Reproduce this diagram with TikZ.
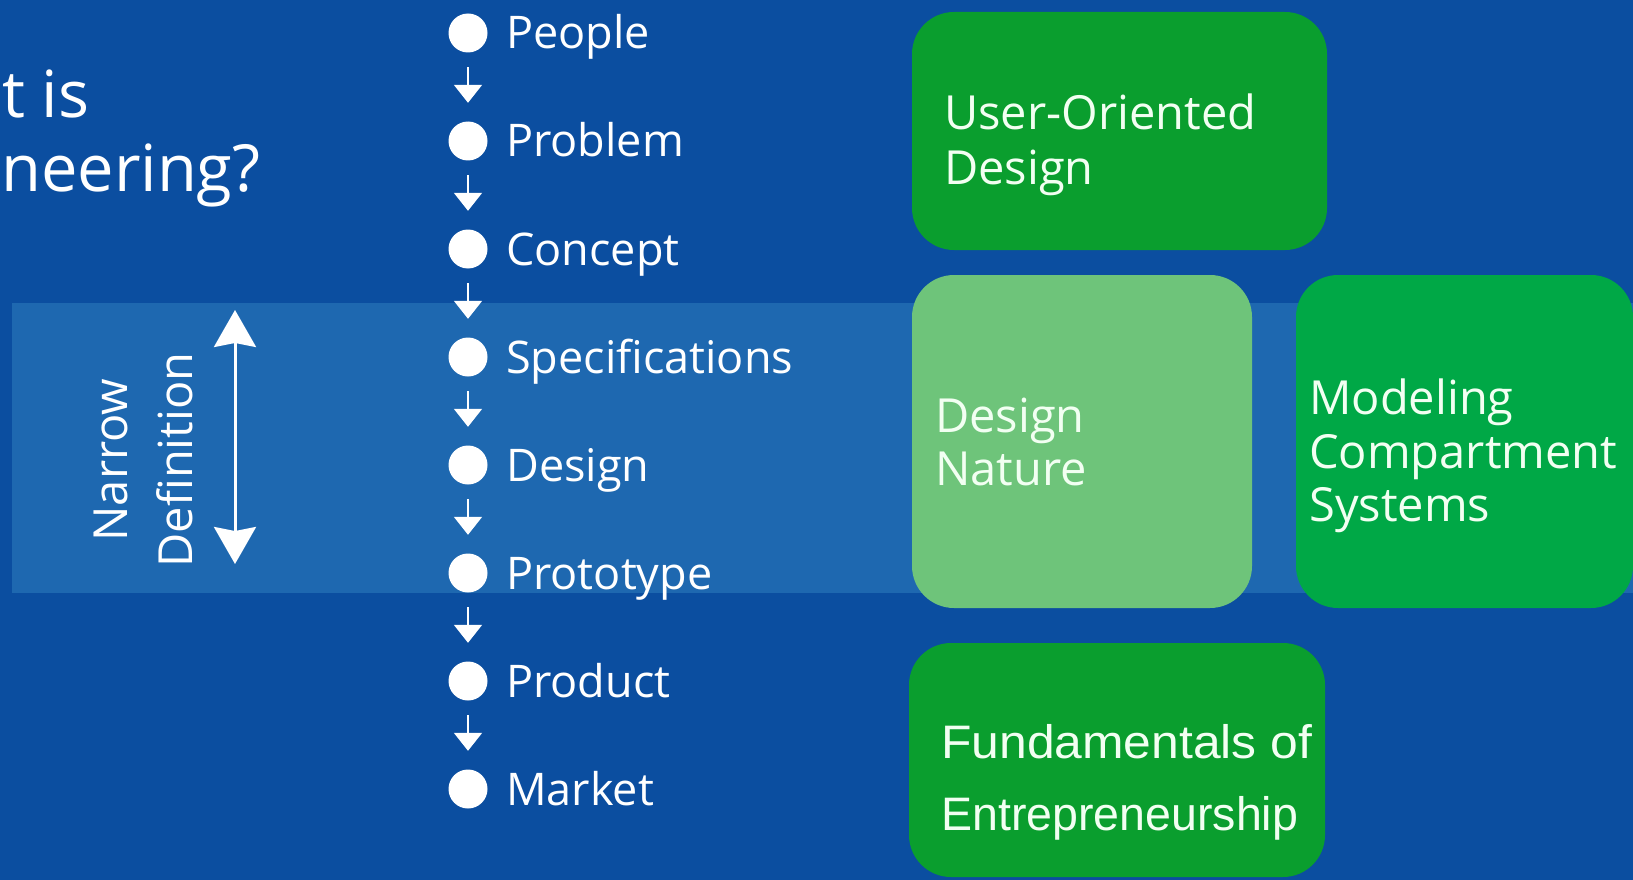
\documentclass[tikz,border=0pt]{standalone}
\usepackage{fontspec}
\setmainfont{Open Sans}
\newfontfamily\arialfont{Liberation Sans}
\usetikzlibrary{arrows.meta}
\definecolor{bgblue}{HTML}{0B4EA0}
\definecolor{bandblue}{HTML}{1E68B0}
\definecolor{greenA}{HTML}{0A9E2E}
\definecolor{greenB}{HTML}{00A846}
\definecolor{greenL}{HTML}{6EC47A}
\definecolor{boxtext}{HTML}{F2FFF2}
\begin{document}
\begin{tikzpicture}[x=1pt,y=-1pt,
  titletext/.style={inner sep=0pt,anchor=base west,text=white,font=\fontsize{65}{78}\selectfont},
  listtext/.style={inner sep=0pt,anchor=base west,text=white,font=\fontsize{45}{54}\selectfont},
  dot/.style={circle,fill=white,minimum size=39pt,inner sep=0pt},
  flowarrow/.style={draw=white,line width=2pt,-{Triangle[width=28pt,length=18pt]},shorten <=14.5pt,shorten >=18.5pt},
  spanarrow/.style={draw=white,line width=3pt,{Stealth[width=42pt,length=37pt,inset=4pt]}-{Stealth[width=42pt,length=37pt,inset=4pt]}},
  sidetext/.style={inner sep=0pt,anchor=base,rotate=90,text=white,font=\fontsize{47}{56}\selectfont},
  gbox/.style={rounded corners=42pt},
  boxtxt/.style={inner sep=0pt,anchor=base west,text=boxtext,font=\fontsize{47}{56}\selectfont},
  arialtxt/.style={inner sep=0pt,anchor=base west,text=boxtext,font=\arialfont\fontsize{47}{56}\selectfont}
]
\clip (0,0) rectangle (1633,880);
\fill[bgblue] (0,0) rectangle (1633,880);
% band
\fill[bandblue] (12,303) rectangle (1633,593);

% title (clipped)
\node[titletext] (title1) at (2,118) {t is};
\node[titletext] (title2) at (1,191) {neering?};

% narrow definition
\node[sidetext] (narrow) at (127,460) {Narrow};
\node[sidetext] (definition) at (192,460) {Definition};
\coordinate (spantop) at (235,310);
\coordinate (spanbot) at (235,564);
\draw[spanarrow] (spantop) -- (spanbot);

% flow list
\foreach \i/\t in {1/People,2/Problem,3/Concept,4/Specifications,5/Design,6/Prototype,7/Product,8/Market}{
  \pgfmathsetmacro{\cy}{33+108*(\i-1)}
  \node[dot] (c\i) at (468,\cy) {};
  \node[listtext] (t\i) at (506,\cy+16) {\t};
}
\foreach \i [evaluate=\i as \j using int(\i+1)] in {1,...,7}{
  \draw[flowarrow] (c\i.south) -- (c\j.north);
}

% green boxes
\fill[greenA,gbox] (912,12) rectangle (1327,250);
\node[boxtxt] (uod1) at (944,130) {User-Oriented};
\node[boxtxt] (uod2) at (944,184) {Design};

\fill[greenL,gbox] (912,275) rectangle (1252,608);
\node[boxtxt] (dn1) at (935,432) {Design};
\node[boxtxt] (dn2) at (935,485) {Nature};

\fill[greenB,gbox] (1296,275) rectangle (1633,608);
\node[boxtxt] (mcs1) at (1309,414) {Modeling};
\node[boxtxt] (mcs2) at (1309,468) {Compartment};
\node[boxtxt] (mcs3) at (1309,521) {Systems};

\fill[greenA,gbox] (909,643) rectangle (1325,877);
\node[arialtxt] (fe1) at (941,758) {\scalebox{1.06}[1]{Fundamentals of}};
\node[arialtxt] (fe2) at (941,830) {\scalebox{0.99}[1]{Entrepreneurship}};
\end{tikzpicture}
\end{document}
